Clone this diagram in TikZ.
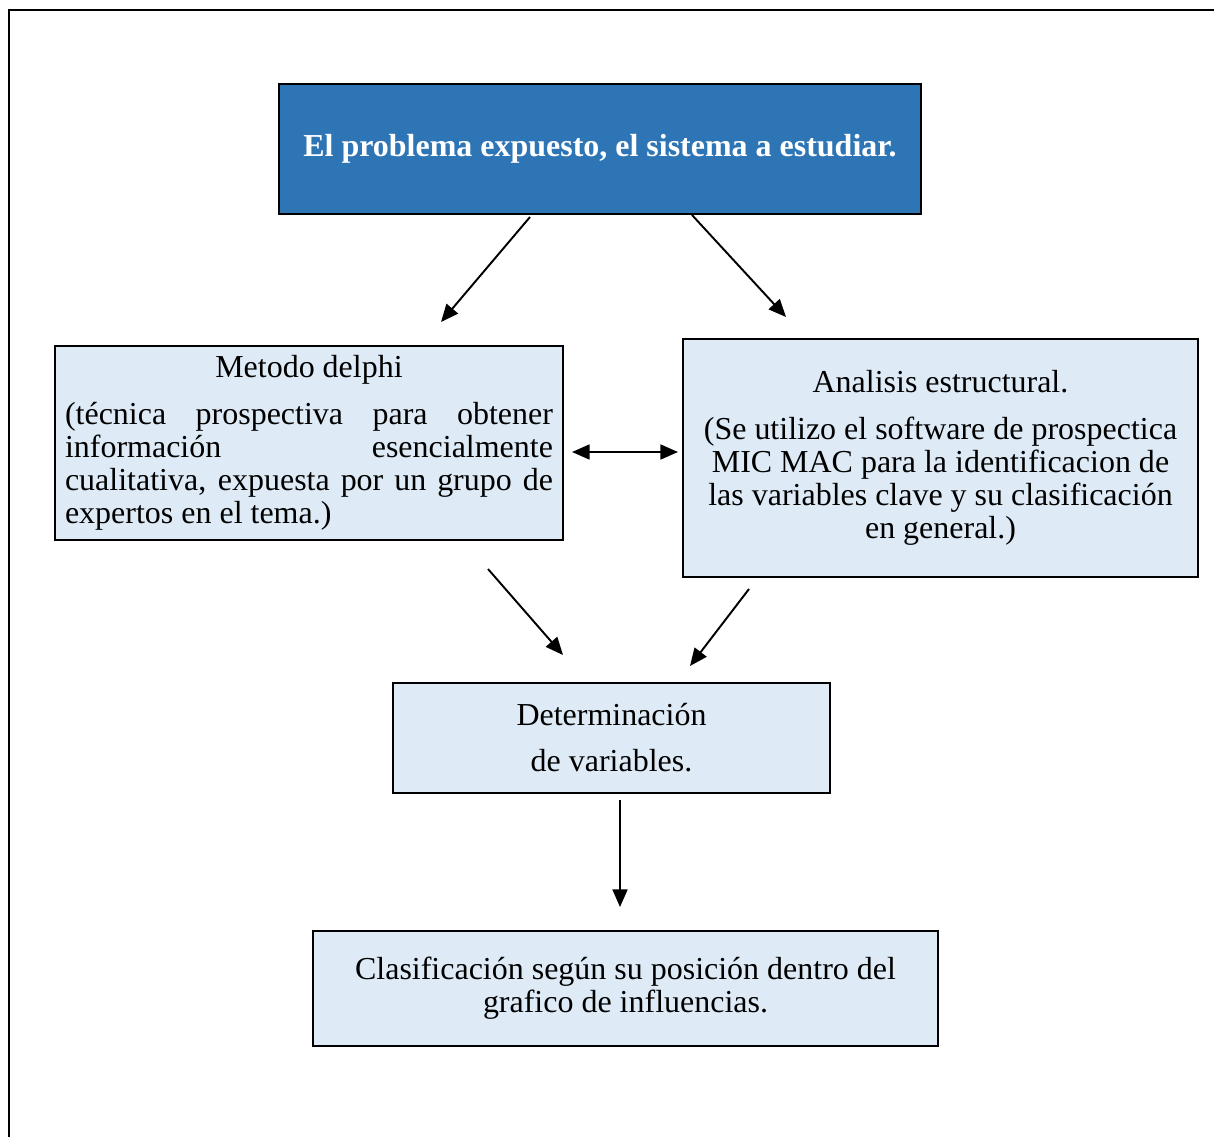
\documentclass[tikz,border=0pt]{standalone}
\usepackage{fontspec}
\setmainfont{Liberation Serif}
\usetikzlibrary{arrows.meta,positioning}
\definecolor{boxblue}{RGB}{46,117,182}
\definecolor{boxpale}{RGB}{222,235,247}

\begin{document}
\begin{tikzpicture}[x=0.02cm,y=-0.02cm,
    every node/.style={font=\fontsize{18.2}{18.8}\selectfont},
    pale/.style={draw,line width=1.1pt,fill=boxpale,inner sep=0pt,align=center},
    flecha/.style={-{Triangle[length=10pt,width=8.5pt]},line width=1.1pt}]
                \useasboundingbox (0,0) rectangle (1214,1137);
                % frame
                \draw [line width=1.2pt] (9,1137) -- (9,10) -- (1214,10);
                % boxes
                \node [draw,line width=1.1pt,fill=boxblue,text=white,minimum width=12.84cm,minimum height=2.6cm,font=\fontsize{18.2}{18.8}\selectfont\bfseries] (problema) at (600,149) {El problema expuesto, el sistema a estudiar.};
                \node [pale,minimum width=10.16cm,minimum height=3.88cm] (delphi) at (309,443) {\raisebox{0pt}[\height][0pt]{}Metodo delphi\\[8pt]
                    \makebox[9.76cm][s]{(técnica prospectiva para obtener}\\
                    \makebox[9.76cm][s]{información esencialmente}\\
                    \makebox[9.76cm][s]{cualitativa, expuesta por un grupo de}\\
                    \makebox[9.76cm][l]{expertos en el tema.)}};
                \node [pale,minimum width=10.3cm,minimum height=4.76cm] (estructural) at (940.5,458) {Analisis estructural.\\[8pt]
                    (Se utilizo el software de prospectica\\
                    MIC MAC para la identificacion de\\
                    las variables clave y su clasificación\\
                    en general.)};
                \node [pale,minimum width=8.74cm,minimum height=2.2cm] (variables) at (611.5,738) {Determinación\\[7.4pt] de variables.};
                \node [pale,minimum width=12.5cm,minimum height=2.3cm] (clasif) at (625.5,988.5) {Clasificación según su posición dentro del\\ grafico de influencias.};
                % arrow ends
                \coordinate (a1) at (530,217);
                \coordinate (b1) at (441,322);
                \coordinate (a2) at (692,215);
                \coordinate (b2) at (786,317);
                \coordinate (a3) at (572,452);
                \coordinate (b3) at (678,452);
                \coordinate (a4) at (488,569);
                \coordinate (b4) at (563,655);
                \coordinate (a5) at (749,589);
                \coordinate (b5) at (690,666);
                \coordinate (a6) at (620,800);
                \coordinate (b6) at (620,907);
                \draw [flecha] (a1) -- (b1);
                \draw [flecha] (a2) -- (b2);
                \draw [flecha,{Triangle[length=10pt,width=8.5pt]}-{Triangle[length=10pt,width=8.5pt]}] (a3) -- (b3);
                \draw [flecha] (a4) -- (b4);
                \draw [flecha] (a5) -- (b5);
                \draw [flecha] (a6) -- (b6);
\end{tikzpicture}
\end{document}
